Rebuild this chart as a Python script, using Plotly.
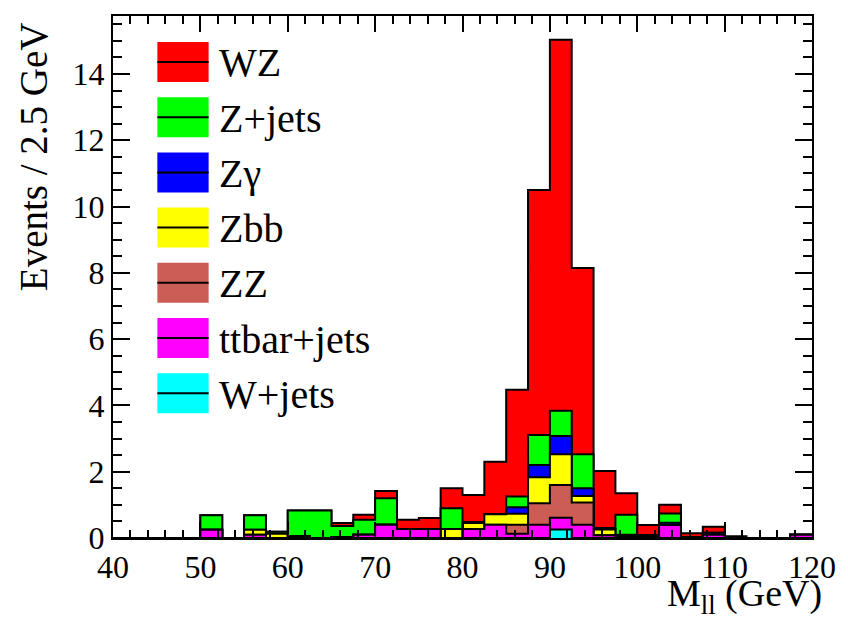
import plotly.graph_objects as go

# ---------------- data (events per 2.5 GeV bin, 40..120 GeV) ----------------
bin_edges = [40 + 2.5 * i for i in range(33)]

series_names = ["WZ", "Z+jets", "Zγ", "Zbb", "ZZ", "ttbar+jets", "W+jets"]
series_colors = ["#FF0000", "#00FF00", "#0000FF", "#FFFF00", "#CC5D55", "#FF00FF", "#00FFFF"]

wz = [0, 0, 0, 0, 0, 0, 0, 0, 0, 0, 0.09, 0.15, 0.22, 0.28, 0.33, 0.60,
      0.82, 1.58, 3.22, 7.39, 11.19, 5.62, 1.72, 0.65, 0.30, 0.26, 0.11, 0.18, 0.05, 0, 0, 0]
zjets = [0, 0, 0, 0, 0.44, 0, 0.44, 0.06, 0.77, 0.83, 0.33, 0.45, 0.80, 0, 0, 0.63,
         0.03, 0, 0.32, 0.91, 0.76, 1.03, 0.02, 0.60, 0.05, 0.28, 0, 0, 0, 0, 0, 0]
zgamma = [0, 0, 0, 0, 0, 0, 0, 0, 0, 0, 0, 0, 0, 0, 0, 0,
          0, 0, 0.20, 0.37, 0.55, 0.23, 0.02, 0.03, 0.04, 0.07, 0, 0.06, 0, 0, 0, 0]
zbb = [0, 0, 0, 0, 0, 0, 0.15, 0.13, 0, 0, 0, 0, 0, 0, 0, 0.27,
       0.18, 0.32, 0.33, 0.78, 0.93, 0.20, 0.18, 0.02, 0, 0, 0, 0, 0, 0, 0, 0]
zz = [0, 0, 0, 0, 0, 0, 0, 0, 0, 0, 0, 0, 0, 0, 0, 0,
      0, 0, 0.27, 0.65, 0.99, 0.67, 0, 0.02, 0, 0, 0, 0, 0, 0, 0, 0]
ttbar = [0, 0, 0, 0, 0.25, 0, 0.10, 0, 0.06, 0, 0.03, 0.10, 0.40, 0.27, 0.27, 0,
         0.27, 0.40, 0.13, 0.40, 0.35, 0.40, 0.08, 0.03, 0, 0.39, 0.03, 0.10, 0, 0, 0, 0.10]
wjets = [0, 0, 0, 0, 0, 0, 0, 0, 0, 0, 0, 0, 0, 0, 0, 0,
         0, 0, 0, 0, 0.26, 0, 0, 0, 0, 0, 0, 0, 0, 0, 0, 0]

x_ticks = [40, 50, 60, 70, 80, 90, 100, 110, 120]
y_ticks = [0, 2, 4, 6, 8, 10, 12, 14]

# ---------------- layout constants (pixels) ----------------
W, H = 848, 620
L, R, T, B = 113, 26, 16, 82
PW, PH = W - L - R, H - T - B
FONT = "Liberation Serif, Times New Roman, serif"

def px_x(p):
    return (p - L) / PW

def px_y(p):
    return (H - B - p) / PH

# ---------------- build stacked histogram ----------------
series_values = [wz, zjets, zgamma, zbb, zz, ttbar, wjets]
bottom_up = list(reversed(series_values))
cums = []
running = [0.0] * len(wz)
for vals in bottom_up:
    running = [a + b for a, b in zip(running, vals)]
    cums.append(running)
cums = list(reversed(cums))  # cums[0] = total (WZ on top)

fig = go.Figure()
for name, color, cum in zip(series_names, series_colors, cums):
    fig.add_trace(go.Scatter(
        x=bin_edges,
        y=cum + [cum[-1]],
        mode="lines",
        line=dict(shape="hv", color="black", width=2),
        fill="tozeroy",
        fillcolor=color,
        name=name,
        showlegend=False,
        hoverinfo="skip",
    ))

# ---------------- custom ROOT-style legend ----------------
shapes = []
annotations = []
leg_x0, leg_x1, leg_text_x = 158, 210, 218
leg_y_first, leg_dy, box_h = 62, 55.2, 40
for i, (name, color) in enumerate(zip(series_names, series_colors)):
    yc = leg_y_first + i * leg_dy
    shapes.append(dict(type="rect", xref="paper", yref="paper",
                       x0=px_x(leg_x0), x1=px_x(leg_x1),
                       y0=px_y(yc + box_h / 2), y1=px_y(yc - box_h / 2),
                       fillcolor=color, line=dict(width=0), layer="above"))
    shapes.append(dict(type="line", xref="paper", yref="paper",
                       x0=px_x(leg_x0), x1=px_x(leg_x1),
                       y0=px_y(yc), y1=px_y(yc),
                       line=dict(color="black", width=2), layer="above"))
    annotations.append(dict(text=name, xref="paper", yref="paper",
                            x=px_x(leg_text_x), y=px_y(yc + 1),
                            xanchor="left", yanchor="middle", showarrow=False,
                            font=dict(family=FONT, size=40, color="black")))

# axis titles
annotations.append(dict(text="Events / 2.5 GeV", xref="paper", yref="paper",
                        x=px_x(33), y=px_y(157), textangle=-90,
                        xanchor="center", yanchor="middle", showarrow=False,
                        font=dict(family=FONT, size=39, color="black")))
annotations.append(dict(text="M<sub>ll</sub> (GeV)", xref="paper", yref="paper",
                        x=px_x(834), y=px_y(596), xanchor="right", yanchor="middle",
                        showarrow=False,
                        font=dict(family=FONT, size=38, color="black")))

axis_common = dict(
    showline=True, linecolor="black", linewidth=2, mirror="ticks",
    ticks="inside", tickcolor="black", tickwidth=2,
    showgrid=False, zeroline=False,
    tickfont=dict(family=FONT, size=32, color="black"),
    layer="above traces",
)

fig.update_layout(
    width=W, height=H,
    margin=dict(l=L, r=R, t=T, b=B, pad=0),
    paper_bgcolor="white", plot_bgcolor="white",
    shapes=shapes, annotations=annotations,
    xaxis=dict(range=[40, 120], tickvals=x_ticks, ticktext=[str(v) for v in x_ticks],
               ticklen=16,
               minor=dict(dtick=2, tick0=40, ticks="inside", ticklen=8,
                          tickcolor="black", tickwidth=2, showgrid=False),
               **axis_common),
    yaxis=dict(range=[0, 15.75], tickvals=y_ticks, ticktext=[str(v) for v in y_ticks],
               ticklen=17,
               minor=dict(dtick=0.5, tick0=0, ticks="inside", ticklen=9,
                          tickcolor="black", tickwidth=2, showgrid=False),
               **axis_common),
)

fig.write_html("out.html")
